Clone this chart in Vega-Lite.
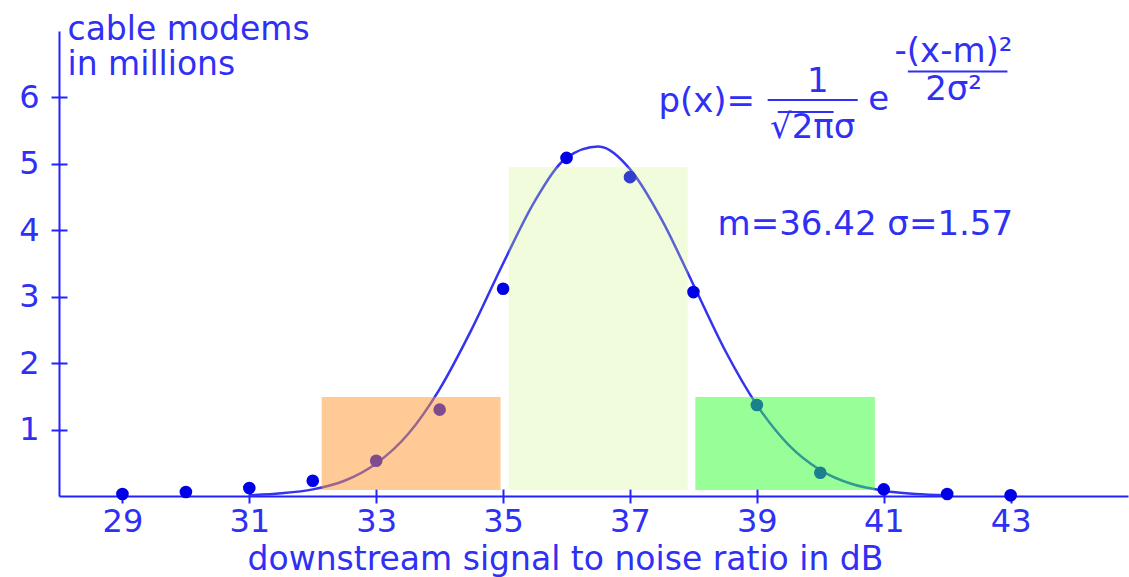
{
  "$schema": "https://vega.github.io/schema/vega-lite/v6.json",
  "width": 1069,
  "height": 465,
  "autosize": {"type": "none"},
  "padding": {"left": 59, "top": 31, "right": 1, "bottom": 81},
  "background": "white",
  "config": {
    "view": {"stroke": null},
    "font": "DejaVu Sans",
    "axis": {
      "grid": false,
      "domainColor": "#2222ff",
      "domainWidth": 2,
      "tickColor": "#2222ff",
      "tickWidth": 2,
      "labelColor": "#3030f5",
      "labelFont": "DejaVu Sans",
      "labelFontSize": 32,
      "labelFlush": false,
      "labelOverlap": false,
      "titleColor": "#3030f5",
      "titleFont": "DejaVu Sans",
      "titleFontSize": 33,
      "titleFontWeight": "normal"
    }
  },
  "datasets": {
    "counts": [
      {"snr": 29, "modems": 0.03},
      {"snr": 30, "modems": 0.06},
      {"snr": 31, "modems": 0.12},
      {"snr": 32, "modems": 0.23},
      {"snr": 33, "modems": 0.53},
      {"snr": 34, "modems": 1.3},
      {"snr": 35, "modems": 3.12},
      {"snr": 36, "modems": 5.09},
      {"snr": 37, "modems": 4.8},
      {"snr": 38, "modems": 3.07},
      {"snr": 39, "modems": 1.37},
      {"snr": 40, "modems": 0.35},
      {"snr": 41, "modems": 0.1},
      {"snr": 42, "modems": 0.03},
      {"snr": 43, "modems": 0.01}
    ],
    "curve": [
      {"snr": 31, "p": 0.01},
      {"snr": 31.5, "p": 0.04},
      {"snr": 32, "p": 0.1},
      {"snr": 32.5, "p": 0.23},
      {"snr": 33, "p": 0.49},
      {"snr": 33.5, "p": 0.93},
      {"snr": 34, "p": 1.61},
      {"snr": 34.5, "p": 2.5},
      {"snr": 35, "p": 3.5},
      {"snr": 35.5, "p": 4.44},
      {"snr": 36, "p": 5.09},
      {"snr": 36.5, "p": 5.26},
      {"snr": 37, "p": 4.92},
      {"snr": 37.5, "p": 4.16},
      {"snr": 38, "p": 3.18},
      {"snr": 38.5, "p": 2.19},
      {"snr": 39, "p": 1.37},
      {"snr": 39.5, "p": 0.77},
      {"snr": 40, "p": 0.39},
      {"snr": 40.5, "p": 0.18},
      {"snr": 41, "p": 0.08},
      {"snr": 41.5, "p": 0.03},
      {"snr": 42, "p": 0.01}
    ],
    "bands": [
      {"band": "low", "from": 32.14, "to": 34.96, "top": 1.49, "bottom": 0.09},
      {"band": "mid", "from": 35.09, "to": 37.91, "top": 4.95, "bottom": 0.09},
      {"band": "high", "from": 38.03, "to": 40.86, "top": 1.49, "bottom": 0.09}
    ],
    "bars": [
      {"from": 39.17, "to": 40.59, "at": 5.96},
      {"from": 39.33, "to": 40.21, "at": 5.78},
      {"from": 41.38, "to": 42.95, "at": 6.39}
    ],
    "notes": [
      {"x": 38.21, "y": 5.78, "label": "p(x)="},
      {"x": 39.96, "y": 6.08, "label": "1"},
      {"x": 39.88, "y": 5.39, "label": "√2πσ"},
      {"x": 40.92, "y": 5.81, "label": "e"},
      {"x": 42.1, "y": 6.54, "label": "-(x-m)²"},
      {"x": 42.1, "y": 5.96, "label": "2σ²"},
      {"x": 40.71, "y": 3.93, "label": "m=36.42 σ=1.57"}
    ]
  },
  "resolve": {"axis": {"x": "independent", "y": "independent"}},
  "layer": [
    {
      "data": {"name": "curve"},
      "mark": {"type": "line", "interpolate": "monotone", "color": "#3434f0", "strokeWidth": 2.5},
      "encoding": {
        "x": {
          "field": "snr", "type": "quantitative",
          "scale": {"domain": [28, 44.85], "nice": false, "zero": false},
          "axis": {"orient": "bottom", "values": [29, 31, 33, 35, 37, 39, 41, 43], "tickSize": -7, "labels": false, "domain": false, "title": null}
        },
        "y": {
          "field": "p", "type": "quantitative",
          "scale": {"domain": [0, 7], "nice": false},
          "axis": {"orient": "left", "values": [1, 2, 3, 4, 5, 6], "tickSize": -8, "labels": false, "domain": false, "title": null}
        }
      }
    },
    {
      "data": {"name": "counts"},
      "mark": {"type": "circle", "color": "#0000e6", "opacity": 1, "size": 160},
      "encoding": {
        "x": {
          "field": "snr", "type": "quantitative",
          "axis": {
            "orient": "bottom",
            "values": [29, 31, 33, 35, 37, 39, 41, 43],
            "format": "d",
            "tickSize": 7,
            "labelPadding": 3,
            "title": "downstream signal to noise ratio in dB",
            "titleX": 506,
            "titleY": 73,
            "titleAlign": "center",
            "titleBaseline": "alphabetic"
          }
        },
        "y": {
          "field": "modems", "type": "quantitative",
          "axis": {
            "orient": "left",
            "values": [1, 2, 3, 4, 5, 6],
            "format": "d",
            "tickSize": 8,
            "labelPadding": 12,
            "title": ["cable modems", "in millions"],
            "titleAngle": 0,
            "titleAlign": "left",
            "titleBaseline": "alphabetic",
            "titleX": 8,
            "titleY": 8,
            "titleLineHeight": 35
          }
        }
      }
    },
    {
      "data": {"name": "bands"},
      "mark": {"type": "rect", "opacity": 1},
      "encoding": {
        "x": {"field": "from", "type": "quantitative", "axis": null},
        "x2": {"field": "to"},
        "y": {"field": "top", "type": "quantitative", "axis": null},
        "y2": {"field": "bottom"},
        "color": {
          "field": "band", "type": "nominal", "legend": null,
          "scale": {"domain": ["low", "mid", "high"], "range": ["rgba(255,150,45,0.5)", "rgba(200,245,120,0.25)", "rgba(50,255,50,0.5)"]}
        }
      }
    },
    {
      "data": {"name": "bars"},
      "mark": {"type": "rule", "color": "#3030f5", "strokeWidth": 2},
      "encoding": {
        "x": {"field": "from", "type": "quantitative", "axis": null},
        "x2": {"field": "to"},
        "y": {"field": "at", "type": "quantitative", "axis": null}
      }
    },
    {
      "data": {"name": "notes"},
      "mark": {"type": "text", "font": "DejaVu Sans", "fontSize": 34, "color": "#3030f5", "align": "center", "baseline": "alphabetic"},
      "encoding": {
        "x": {"field": "x", "type": "quantitative", "axis": null},
        "y": {"field": "y", "type": "quantitative", "axis": null},
        "text": {"field": "label"}
      }
    }
  ]
}
